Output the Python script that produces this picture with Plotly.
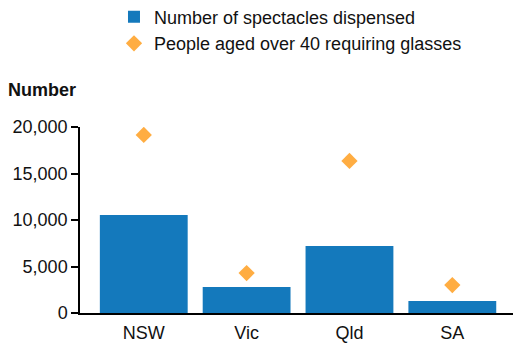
import plotly.graph_objects as go

states = ["NSW", "Vic", "Qld", "SA"]
spectacles = [10550, 2800, 7200, 1300]
people_over_40 = [19150, 4300, 16350, 3000]
y_ticks = [0, 5000, 10000, 15000, 20000]
y_tick_labels = ["0", "5,000", "10,000", "15,000", "20,000"]

BLUE = "#1479bc"
ORANGE = "#ffad42"
FONT = "Liberation Sans, Arial, sans-serif"

fig = go.Figure()
fig.add_trace(go.Bar(
    x=states, y=spectacles, name="Number of spectacles dispensed",
    marker=dict(color=BLUE, line=dict(width=0)),
))
fig.add_trace(go.Scatter(
    x=states, y=people_over_40, name="People aged over 40 requiring glasses",
    mode="markers", marker=dict(symbol="diamond", size=12.5, color=ORANGE),
))

fig.update_layout(
    width=513, height=352,
    margin=dict(l=80, r=0, t=127, b=39, autoexpand=False),
    paper_bgcolor="white", plot_bgcolor="white",
    font=dict(family=FONT, size=18, color="#111111"),
    bargap=0.146,
    showlegend=True,
    legend=dict(
        x=0.0785, y=1.69, xanchor="left", yanchor="top",
        font=dict(size=18, color="#111111"),
        bgcolor="rgba(0,0,0,0)", tracegroupgap=0,
    ),
    xaxis=dict(
        range=[-0.62, 3.59], showgrid=False, showline=True, linecolor="black",
        linewidth=1.5, ticks="", tickfont=dict(size=18), fixedrange=True,
        ticklabelstandoff=3,
    ),
    yaxis=dict(
        range=[0, 20000], tickvals=y_ticks, ticktext=y_tick_labels,
        showgrid=False, showline=True, linecolor="black", linewidth=1.5,
        ticks="outside", ticklen=7, tickwidth=1.5, tickcolor="black",
        tickfont=dict(size=18), zeroline=False,
    ),
    annotations=[dict(
        text="<b>Number</b>", xref="paper", yref="paper",
        x=-0.17, y=1.2, xanchor="left", yanchor="middle",
        showarrow=False, font=dict(size=18, color="#111111"),
    )],
)

fig.write_html("out.html")
